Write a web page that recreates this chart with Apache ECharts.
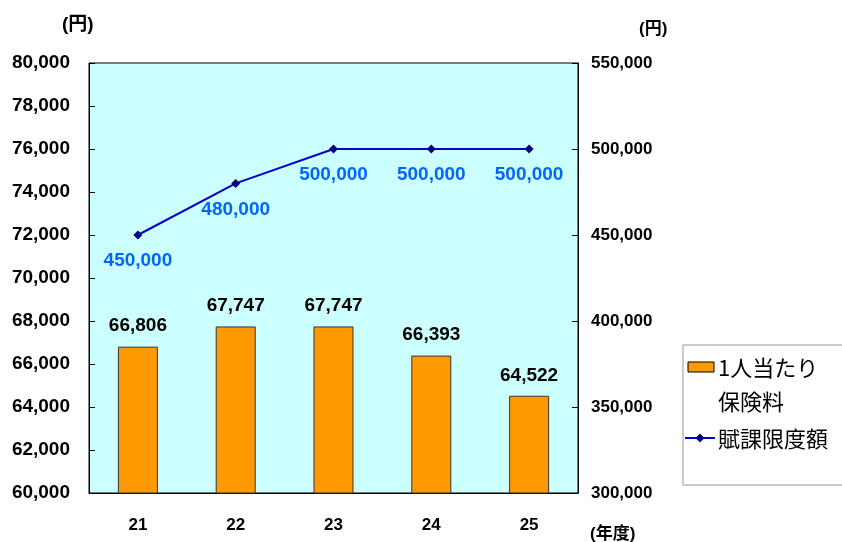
<!DOCTYPE html>
<html><head><meta charset="utf-8">
<script src="https://cdn.jsdelivr.net/npm/echarts@6/dist/echarts.min.js"></script>
<style>html,body{margin:0;padding:0;background:#fff}#c{width:842px;height:542px}</style>
</head><body><div id="c"></div>
<script>
const categories = ['21','22','23','24','25'];
const premium = [66806, 67747, 67747, 66393, 64522];
const limit = [450000, 480000, 500000, 500000, 500000];
const barName = '1人当たり保険料';
const lineName = '賦課限度額';
const F = '"Liberation Sans", Arial, "Noto Sans CJK JP", sans-serif';
const CJK = '"Noto Sans CJK JP", sans-serif';
const fmt = v => v.toLocaleString('en-US');
const chart = echarts.init(document.getElementById('c'));
chart.setOption({
  animation: false,
  grid: {left: 89, top: 63, width: 489, height: 430, show: true, backgroundColor: '#CCFFFF', borderColor: '#000', borderWidth: 1},
  xAxis: {type: 'category', data: categories,
    axisLine: {lineStyle: {color: '#000'}}, axisTick: {show: false},
    axisLabel: {fontFamily: F, fontWeight: 'bold', fontSize: 17, color: '#000', margin: 24}},
  yAxis: [
    {type: 'value', min: 60000, max: 80000, interval: 2000, position: 'left',
     splitLine: {show: false}, axisLine: {show: true, lineStyle: {color: '#000'}},
     axisTick: {show: true, inside: true, length: 6, lineStyle: {color: '#000'}},
     axisLabel: {fontFamily: F, fontWeight: 'bold', fontSize: 19, color: '#000', margin: 19, formatter: fmt}},
    {type: 'value', min: 300000, max: 550000, interval: 50000, position: 'right',
     splitLine: {show: false}, axisLine: {show: true, lineStyle: {color: '#000'}},
     axisTick: {show: true, inside: true, length: 6, lineStyle: {color: '#000'}},
     axisLabel: {fontFamily: F, fontWeight: 'bold', fontSize: 17, color: '#000', margin: 13, formatter: fmt}}
  ],
  graphic: [
    {type: 'rect', shape: {x: 683, y: 345, width: 170, height: 140}, style: {fill: '#fff', stroke: '#999', lineWidth: 1}},
    {type: 'rect', shape: {x: 688, y: 362, width: 26, height: 10}, style: {fill: '#FF9900', stroke: '#000', lineWidth: 1}},
    {type: 'text', x: 718, y: 368, style: {text: '1人当たり', font: '22px ' + CJK, fill: '#000', verticalAlign: 'middle'}},
    {type: 'text', x: 718, y: 402, style: {text: '保険料', font: '22px ' + CJK, fill: '#000', verticalAlign: 'middle'}},
    {type: 'line', shape: {x1: 685, y1: 438, x2: 715, y2: 438}, style: {stroke: '#0000CC', lineWidth: 2}},
    {type: 'polygon', shape: {points: [[700, 433.5], [704.5, 438], [700, 442.5], [695.5, 438]]}, style: {fill: '#000080'}},
    {type: 'text', x: 718, y: 439, style: {text: lineName, font: '22px ' + CJK, fill: '#000', verticalAlign: 'middle'}},
    {type: 'text', x: 62, y: 25, style: {text: '(円)', font: 'bold 19px ' + F, fill: '#000', verticalAlign: 'middle'}},
    {type: 'text', x: 639, y: 29, style: {text: '(円)', font: 'bold 17px ' + F, fill: '#000', verticalAlign: 'middle'}},
    {type: 'text', x: 590, y: 534, style: {text: '(年度)', font: 'bold 17px ' + F, fill: '#000', verticalAlign: 'middle'}}
  ],
  series: [
    {name: barName, type: 'bar', data: premium, yAxisIndex: 0, barWidth: 40,
     itemStyle: {color: '#FF9900', borderColor: '#333', borderWidth: 1},
     label: {show: true, position: 'top', distance: 11, fontFamily: F, fontWeight: 'bold', fontSize: 19, color: '#000', formatter: p => fmt(p.value)}},
    {name: lineName, type: 'line', data: limit, yAxisIndex: 1,
     symbol: 'diamond', symbolSize: 9, lineStyle: {color: '#0000CC', width: 2},
     itemStyle: {color: '#000080'},
     label: {show: true, position: 'bottom', distance: 12, fontFamily: F, fontWeight: 'bold', fontSize: 19, color: '#0066FF', formatter: p => fmt(p.value)}}
  ]
});
</script></body></html>
